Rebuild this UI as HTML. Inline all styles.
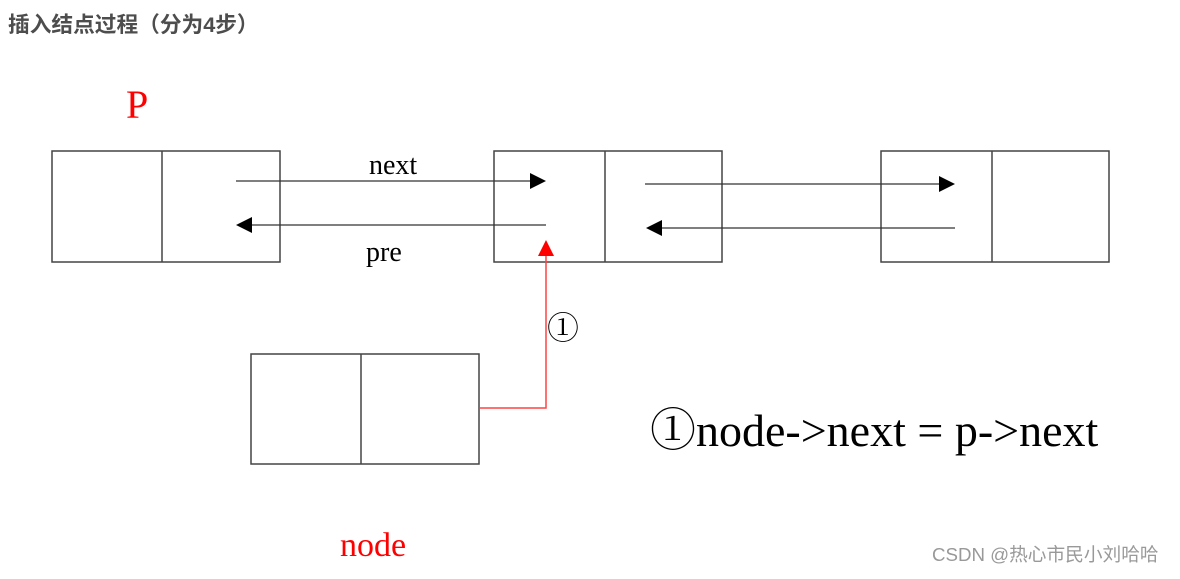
<!DOCTYPE html>
<html><head><meta charset="utf-8"><style>
body{margin:0;width:1180px;height:574px;background:#fff;overflow:hidden}
</style></head><body>
<svg width="1180" height="574" xmlns="http://www.w3.org/2000/svg">
<text x="8" y="32" font-family="'Liberation Sans','Noto Sans CJK SC',sans-serif" font-size="21.7" font-weight="bold" fill="#4d4d4d">插入结点过程（分为4步）</text>
<g fill="none" stroke="#444" stroke-width="1.5">
<rect x="52" y="151" width="228" height="111"/><line x1="162" y1="151" x2="162" y2="262"/>
<rect x="494" y="151" width="228" height="111"/><line x1="605" y1="151" x2="605" y2="262"/>
<rect x="881" y="151" width="228" height="111"/><line x1="992" y1="151" x2="992" y2="262"/>
<rect x="251" y="354" width="228" height="110"/><line x1="361" y1="354" x2="361" y2="464"/>
</g>
<g stroke="#333" stroke-width="1.3">
<line x1="236" y1="181" x2="532" y2="181"/>
<line x1="250" y1="225" x2="546" y2="225"/>
<line x1="645" y1="184" x2="940" y2="184"/>
<line x1="660" y1="228" x2="955" y2="228"/>
</g>
<g fill="#000">
<polygon points="546,181 530,173 530,189"/>
<polygon points="236,225 252,217 252,233"/>
<polygon points="955,184 939,176 939,192"/>
<polygon points="646,228 662,220 662,236"/>
</g>
<polyline points="480,408 546,408 546,255" fill="none" stroke="#f44" stroke-width="1.5"/>
<polygon points="546,240 538,256 554,256" fill="#f00"/>
<g font-family="'Liberation Serif',serif">
<text x="369" y="174" font-size="28">next</text>
<text x="366" y="261" font-size="28">pre</text>
<text x="126" y="118" font-size="40" fill="#f00">P</text>
<text x="340" y="556" font-size="34" fill="#f00">node</text>
<text x="547" y="339" font-size="32" font-family="'Noto Serif CJK SC',serif">①</text>
<text x="650" y="446" font-size="46" font-family="'Liberation Serif','Noto Serif CJK SC',serif">①node-&gt;next = p-&gt;next</text>
</g>
<text x="932" y="561" font-family="'Liberation Sans','Noto Sans CJK SC',sans-serif" font-size="18.7" fill="#999">CSDN @热心市民小刘哈哈</text>
</svg>
</body></html>
